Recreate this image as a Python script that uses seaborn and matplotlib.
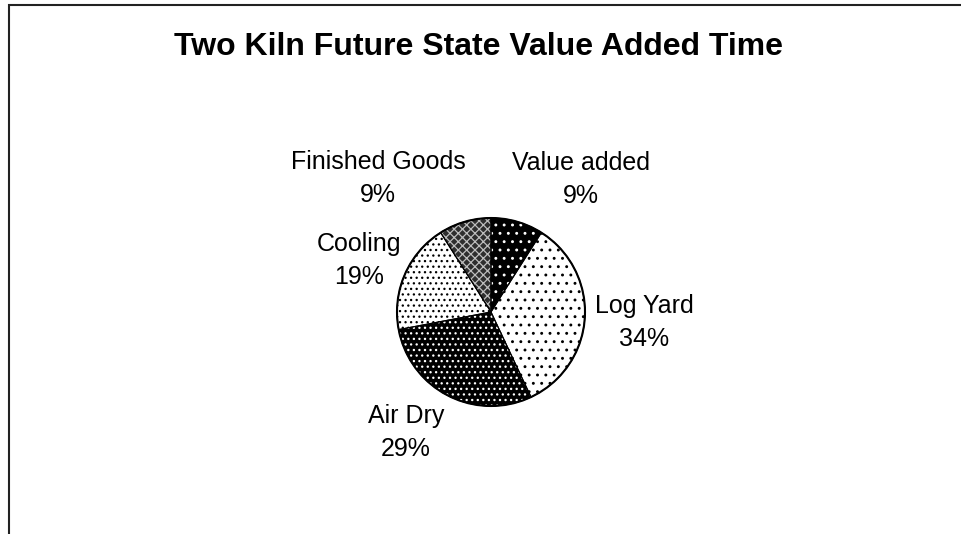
import matplotlib
matplotlib.use("Agg")
import matplotlib.pyplot as plt
import seaborn as sns
from matplotlib.patches import Circle

# Share of total time per stage (%), clockwise from 12 o'clock
categories = ["Value added", "Log Yard", "Air Dry", "Cooling", "Finished Goods"]
shares = [9, 34, 29, 19, 9]
title = "Two Kiln Future State Value Added Time"

# Fill styling per slice: background, dot/lattice colour, hatch pattern
face_colors = ["black", "white", "black", "white", "#2e2e2e"]
hatch_colors = ["white", "black", "white", "black", "#bdbdbd"]
hatches = ["..", "..", "...", "...", "xxxx"]

# Label anchors in canvas pixels (x centre, baseline of the name line, from top)
label_xy = [(581, 170), (644, 313), (406, 423), (359, 251), (378, 169)]
line_gap = 33

sns.set_theme(style="white")
plt.rcParams["font.family"] = ["Liberation Sans", "DejaVu Sans"]
plt.rcParams["hatch.linewidth"] = 0.9

W, H = 961, 534
fig = plt.figure(figsize=(W / 100, H / 100), dpi=100)
fig.patch.set_facecolor("white")
ax = fig.add_axes([0, 0, 1, 1])

cx, cy, r = 491, H - 312, 94

# Patterned slices (hatch colour follows the edge colour)
wedges, _ = ax.pie(shares, startangle=90, counterclock=False, radius=r,
                   center=(cx, cy), colors=face_colors, hatch=hatches,
                   wedgeprops=dict(linewidth=0))
for w, hc in zip(wedges, hatch_colors):
    w.set_edgecolor(hc)
    w.set_linewidth(0)

# Slice borders
ax.pie(shares, startangle=90, counterclock=False, radius=r, center=(cx, cy),
       colors=["none"] * len(shares),
       wedgeprops=dict(edgecolor="black", linewidth=0.8, fill=False))
ax.add_patch(Circle((cx, cy), r, fill=False, edgecolor="black", linewidth=1.5))

# Category labels with percentages
for name, val, (lx, ly) in zip(categories, shares, label_xy):
    ax.text(lx, H - ly, name, ha="center", va="baseline", fontsize=18, color="black")
    ax.text(lx, H - ly - line_gap, f"{val}%", ha="center", va="baseline",
            fontsize=18, color="black")

ax.text(478, H - 55, title, ha="center", va="baseline", fontsize=23,
        fontweight="bold", color="black")

# Chart-area border (left and top edges)
ax.plot([9, 9, W + 10], [-10, H - 5, H - 5], color="#222222", linewidth=1.5,
        solid_joinstyle="miter")

ax.set_xlim(0, W)
ax.set_ylim(0, H)
ax.set_aspect("equal")
ax.axis("off")

fig.savefig("out.png", dpi=100, facecolor="white")
